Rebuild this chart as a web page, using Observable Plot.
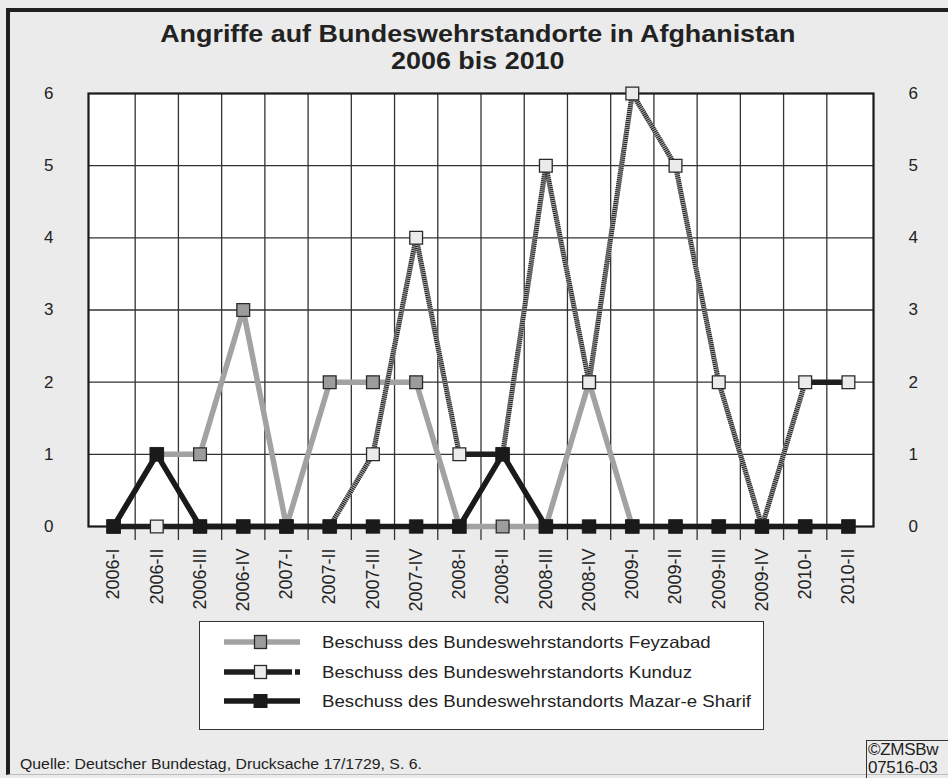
<!DOCTYPE html>
<html><head><meta charset="utf-8">
<script src="https://cdn.jsdelivr.net/npm/d3@7"></script>
<script src="https://cdn.jsdelivr.net/npm/@observablehq/plot@0.6"></script>
<style>
html,body{margin:0;padding:0;background:#ebebeb;}
#page{position:relative;width:948px;height:778px;overflow:hidden;background:#ebebeb;font-family:"Liberation Sans",Arial,sans-serif;color:#222;}
#border{position:absolute;left:6px;top:8px;width:980px;height:767px;border:4px solid #1f1f1f;border-right:none;border-bottom:1px solid #bbb;box-sizing:border-box;}
#title{position:absolute;left:10px;width:938px;top:20px;text-align:center;font-weight:bold;font-size:24px;line-height:27px;transform:scaleX(1.12);transform-origin:479px 0;}
#chart{position:absolute;left:0;top:0;}
#legend{position:absolute;left:199px;top:621px;width:565px;height:109px;background:#fff;border:1.5px solid #333;box-sizing:border-box;}
.lrow{position:absolute;left:0;height:20px;}
.lrow svg{position:absolute;left:22px;top:0;}
.lrow span{position:absolute;left:122px;top:0;white-space:nowrap;font-size:16.5px;line-height:20px;transform:scaleX(1.13);transform-origin:0 0;}
#caption{position:absolute;left:20px;top:755px;font-size:14px;line-height:18px;white-space:nowrap;transform:scaleX(1.13);transform-origin:0 0;}
#logo{position:absolute;left:866px;top:740px;width:100px;height:50px;border:1px solid #333;box-sizing:border-box;font-size:17px;line-height:18px;padding-left:1px;padding-top:0px;letter-spacing:-0.3px;}
</style></head>
<body>
<div id="page">
  <div id="border"></div>
  <div id="title">Angriffe auf Bundeswehrstandorte in Afghanistan<br>2006 bis 2010</div>
  <div id="chart"></div>
  <div id="legend"></div>
  <div id="caption">Quelle: Deutscher Bundestag, Drucksache 17/1729, S. 6.</div>
  <div id="logo">©ZMSBw<br>07516-03</div>
</div>
<script>
const quarters = ["2006-I","2006-II","2006-III","2006-IV","2007-I","2007-II","2007-III","2007-IV","2008-I","2008-II","2008-III","2008-IV","2009-I","2009-II","2009-III","2009-IV","2010-I","2010-II"];
const feyzabad = [0,1,1,3,0,2,2,2,0,0,0,2,0,0,0,0,0,0];
const kunduz   = [0,0,0,0,0,0,1,4,1,1,5,2,6,5,2,0,2,2];
const mazar    = [0,1,0,0,0,0,0,0,0,1,0,0,0,0,0,0,0,0];
const yTicks = [0,1,2,3,4,5,6];
const seriesNames = ["Beschuss des Bundeswehrstandorts Feyzabad","Beschuss des Bundeswehrstandorts Kunduz","Beschuss des Bundeswehrstandorts Mazar-e Sharif"];

const rows = (vals) => vals.map((v, i) => ({i, q: quarters[i], v}));
const F = rows(feyzabad), K = rows(kunduz), M = rows(mazar);
const idx = quarters.map((q, i) => i);
const bounds = quarters.slice(1).map((q, i) => i + 0.5);
// Kunduz segments between consecutive quarters (flat ones print solid, sloped ones hatched)
const kSegs = K.slice(0, -1).map((d, j) => ({x1: d.i, y1: d.v, x2: K[j + 1].i, y2: K[j + 1].v}));
const kFlat = kSegs.filter(s => s.y1 === s.y2);
const kSlope = kSegs.filter(s => s.y1 !== s.y2);

const chart = Plot.plot({
  width: 948, height: 620,
  marginTop: 93, marginLeft: 88, marginRight: 75, marginBottom: 94,
  style: {background: "transparent", fontFamily: "Liberation Sans, Arial, sans-serif", fontSize: "17px", color: "#222", overflow: "visible"},
  x: {type: "linear", domain: [-0.58, 17.58], label: null},
  y: {domain: [0, 6], label: null},
  marks: [
    Plot.frame({fill: "white", stroke: null}),
    Plot.gridX(bounds, {stroke: "#333", strokeOpacity: 1, strokeWidth: 1.3}),
    Plot.gridY(yTicks.filter(d => d > 0 && d < 6), {stroke: "#333", strokeOpacity: 1, strokeWidth: 1.3}),
    Plot.frame({stroke: "#1a1a1a", strokeWidth: 2.2}),
    Plot.axisX(bounds, {tickSize: 14, tickFormat: () => "", stroke: "#333", strokeWidth: 1.3, label: null}),
    Plot.axisX(idx, {tickSize: 0, tickPadding: 22, tickRotate: -90, tickFormat: i => quarters[i], fontSize: 18, label: null}),
    Plot.axisY(yTicks, {anchor: "left", tickSize: 0, tickPadding: 35, tickFormat: d => String(d), fontSize: 17, label: null}),
    Plot.axisY(yTicks, {anchor: "right", tickSize: 0, tickPadding: 35, tickFormat: d => String(d), fontSize: 17, label: null}),
    // Feyzabad
    Plot.line(F, {x: "i", y: "v", stroke: "#a2a2a2", strokeWidth: 5.5}),
    Plot.dot(F, {x: "i", y: "v", symbol: "square", r: 7.2, fill: "#9c9c9c", stroke: "#2a2a2a", strokeWidth: 1.3}),
    // Kunduz
    Plot.link(kSlope, {x1: "x1", y1: "y1", x2: "x2", y2: "y2", stroke: "#b0b0b0", strokeWidth: 5, strokeLinecap: "butt"}),
    Plot.link(kSlope, {x1: "x1", y1: "y1", x2: "x2", y2: "y2", stroke: "#1e1e1e", strokeWidth: 5, strokeDasharray: "1,1", strokeLinecap: "butt"}),
    Plot.link(kFlat, {x1: "x1", y1: "y1", x2: "x2", y2: "y2", stroke: "#1e1e1e", strokeWidth: 5.5, strokeLinecap: "butt"}),
    Plot.dot(K, {x: "i", y: "v", symbol: "square", r: 7.2, fill: "#ebebeb", stroke: "#2a2a2a", strokeWidth: 1.3}),
    // Mazar-e Sharif
    Plot.line(M, {x: "i", y: "v", stroke: "#1a1a1a", strokeWidth: 5.5}),
    Plot.dot(M, {x: "i", y: "v", symbol: "square", r: 7.8, fill: "#1a1a1a", stroke: "#1a1a1a", strokeWidth: 0.5})
  ]
});
document.getElementById("chart").appendChild(chart);

// Legend
const legend = document.getElementById("legend");
const rowTops = [10, 40, 69];
const sym = [
  `<svg width="80" height="20"><line x1="2" y1="10" x2="78" y2="10" stroke="#a2a2a2" stroke-width="5.5"/><rect x="32.5" y="3.5" width="12" height="13" fill="#9c9c9c" stroke="#2a2a2a" stroke-width="1.3"/></svg>`,
  `<svg width="80" height="20"><line x1="2" y1="10" x2="70" y2="10" stroke="#1e1e1e" stroke-width="5.5"/><line x1="73" y1="10" x2="78" y2="10" stroke="#1e1e1e" stroke-width="5.5"/><rect x="32.5" y="3.5" width="12" height="13" fill="#ebebeb" stroke="#2a2a2a" stroke-width="1.3"/></svg>`,
  `<svg width="80" height="20"><line x1="2" y1="10" x2="78" y2="10" stroke="#1a1a1a" stroke-width="5.5"/><rect x="31.5" y="3" width="14" height="14" fill="#1a1a1a"/></svg>`
];
seriesNames.forEach((name, k) => {
  const r = document.createElement("div");
  r.className = "lrow";
  r.style.top = rowTops[k] + "px";
  r.innerHTML = sym[k] + `<span>${name}</span>`;
  legend.appendChild(r);
});
</script>
</body></html>
